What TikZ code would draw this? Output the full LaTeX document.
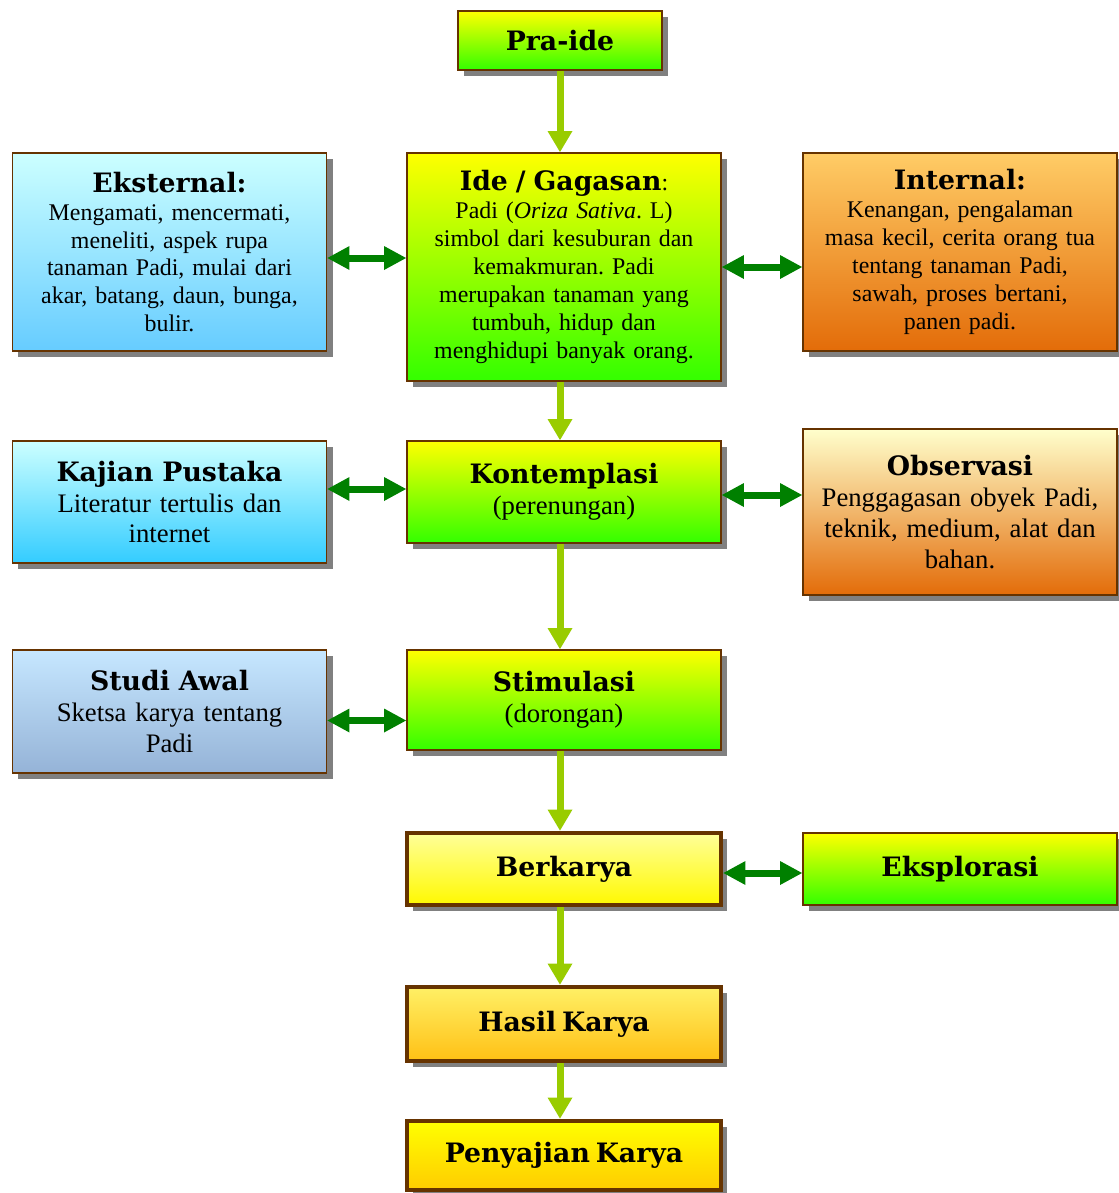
\documentclass[tikz,border=0pt]{standalone}
\usepackage{fontspec}
\setmainfont{Liberation Serif}
\newfontfamily\headfont{DejaVu Serif}
\usetikzlibrary{arrows.meta,shadows,positioning}
\frenchspacing
\definecolor{boxbrown}{HTML}{663300}
\definecolor{flowgreen}{HTML}{99CC00}
\definecolor{linkgreen}{HTML}{008000}
\definecolor{ygtop}{HTML}{FFFF00}
\definecolor{ygbot}{HTML}{33FF00}
\definecolor{orangebot}{HTML}{E36C09}
\newcommand{\hd}[1]{{\headfont\bfseries\fontsize{15.2}{15}\selectfont #1}}
\tikzstyle{box} = [rectangle, draw=boxbrown, line width=1.1pt, align=center, text width=6cm, inner sep=1pt, minimum width=6.28cm, drop shadow={shadow xshift=0.12cm, shadow yshift=-0.12cm, fill=black!50, opacity=1}]
\tikzstyle{small} = [font=\fontsize{13.6}{15.9}\selectfont]
\tikzstyle{large} = [font=\fontsize{15.2}{17.6}\selectfont]
\tikzstyle{ygbox} = [box, top color=ygtop, bottom color=ygbot]
\tikzstyle{final} = [box, line width=2.8pt]
\tikzstyle{flow} = [draw=flowgreen, line width=0.14cm, -{Triangle[width=0.5cm,length=0.42cm,line width=0pt]}]
\tikzstyle{link} = [draw=linkgreen, line width=0.14cm, {Triangle[width=0.48cm,length=0.44cm,line width=0pt]}-{Triangle[width=0.48cm,length=0.44cm,line width=0pt]}]

\begin{document}
\begin{tikzpicture}
    \useasboundingbox (0,0) rectangle (22.38,-23.86);

    % middle column
    \node[ygbox,small,minimum height=4.56cm] (Ide) at (11.28,-5.34) {\hd{Ide / Gagasan}:\\ Padi (\textit{Oriza Sativa}. L)\\ simbol dari kesuburan dan\\ kemakmuran. Padi\\ merupakan tanaman yang\\ tumbuh, hidup dan\\ menghidupi banyak orang.};
    \node[ygbox,minimum width=4.08cm,text width=4cm,minimum height=1.18cm] (Pra) [above of=Ide, node distance=4.53cm, xshift=-0.08cm] {\hd{Pra-ide}};
    \node[ygbox,large,minimum height=2.04cm] (Kon) [below of=Ide, node distance=4.5cm] {\hd{Kontemplasi}\\ (perenungan)};
    \node[ygbox,large,minimum height=2cm] (Sti) [below of=Kon, node distance=4.16cm] {\hd{Stimulasi}\\ (dorongan)};
    \node[final,top color=yellow!40,bottom color=yellow!95!orange,minimum height=1.44cm] (Ber) [below of=Sti, node distance=3.38cm] {\hd{Berkarya}};
    \node[final,top color={rgb,255:red,255;green,240;blue,102},bottom color={rgb,255:red,255;green,192;blue,20},minimum height=1.48cm] (Has) [below of=Ber, node distance=3.1cm] {\hd{Hasil Karya}};
    \node[final,top color=yellow,bottom color={rgb,255:red,255;green,204;blue,0},minimum height=1.38cm] (Pen) [below of=Has, node distance=2.63cm] {\hd{Penyajian Karya}};

    % left column
    \node[box,small,top color={rgb,255:red,204;green,255;blue,255},bottom color={rgb,255:red,102;green,204;blue,255},minimum height=3.96cm] (Eks) [left of=Ide, node distance=7.89cm, yshift=0.3cm] {\hd{Eksternal:}\\ Mengamati, mencermati,\\ meneliti, aspek rupa\\ tanaman Padi, mulai dari\\ akar, batang, daun, bunga,\\ bulir.};
    \node[box,large,top color={rgb,255:red,204;green,255;blue,255},bottom color={rgb,255:red,51;green,204;blue,255},minimum height=2.44cm] (Kaj) [left of=Kon, node distance=7.89cm, yshift=-0.2cm] {\hd{Kajian Pustaka}\\ Literatur tertulis dan\\ internet};
    \node[box,large,top color={rgb,255:red,198;green,231;blue,255},bottom color={rgb,255:red,149;green,179;blue,215},minimum height=2.46cm] (Stu) [left of=Sti, node distance=7.89cm, yshift=-0.23cm] {\hd{Studi Awal}\\ Sketsa karya tentang\\ Padi};

    % right column
    \node[box,small,top color={rgb,255:red,255;green,204;blue,102},bottom color=orangebot,minimum height=3.96cm] (Int) [right of=Ide, node distance=7.92cm, yshift=0.3cm] {\hd{Internal:}\\ Kenangan, pengalaman\\ masa kecil, cerita orang tua\\ tentang tanaman Padi,\\ sawah, proses bertani,\\ panen padi.};
    \node[box,large,top color={rgb,255:red,255;green,255;blue,204},bottom color=orangebot,minimum height=3.32cm] (Obs) [right of=Kon, node distance=7.92cm, yshift=-0.4cm] {\hd{Observasi}\\ Penggagasan obyek Padi,\\ teknik, medium, alat dan\\ bahan.};
    \node[ygbox,minimum height=1.44cm] (Eksp) [right of=Ber, node distance=7.92cm] {\hd{Eksplorasi}\\[0.3cm]};

    % flow down the middle
    \draw[flow] (Pra) -- (Pra |- Ide.north);
    \draw[flow] (Ide.south -| Pra) -- (Kon.north -| Pra);
    \draw[flow] (Kon.south -| Pra) -- (Sti.north -| Pra);
    \draw[flow] (Sti.south -| Pra) -- (Ber.north -| Pra);
    \draw[flow] (Ber.south -| Pra) -- (Has.north -| Pra);
    \draw[flow] (Has.south -| Pra) -- (Pen.north -| Pra);

    % side links
    \draw[link] ([yshift=-0.12cm]Eks.east) -- ([yshift=-0.12cm]Eks.east -| Ide.west);
    \draw[link] (Ide.east) -- (Ide.east -| Int.west);
    \draw[link] ([yshift=0.06cm]Kon.west -| Kaj.east) -- ([yshift=0.06cm]Kon.west);
    \draw[link] ([yshift=-0.06cm]Kon.east) -- ([yshift=-0.06cm]Kon.east -| Obs.west);
    \draw[link] ([yshift=-0.18cm]Stu.east) -- ([yshift=-0.18cm]Stu.east -| Sti.west);
    \draw[link] ([yshift=-0.08cm]Ber.east) -- ([yshift=-0.08cm]Eksp.west);
\end{tikzpicture}
\end{document}
